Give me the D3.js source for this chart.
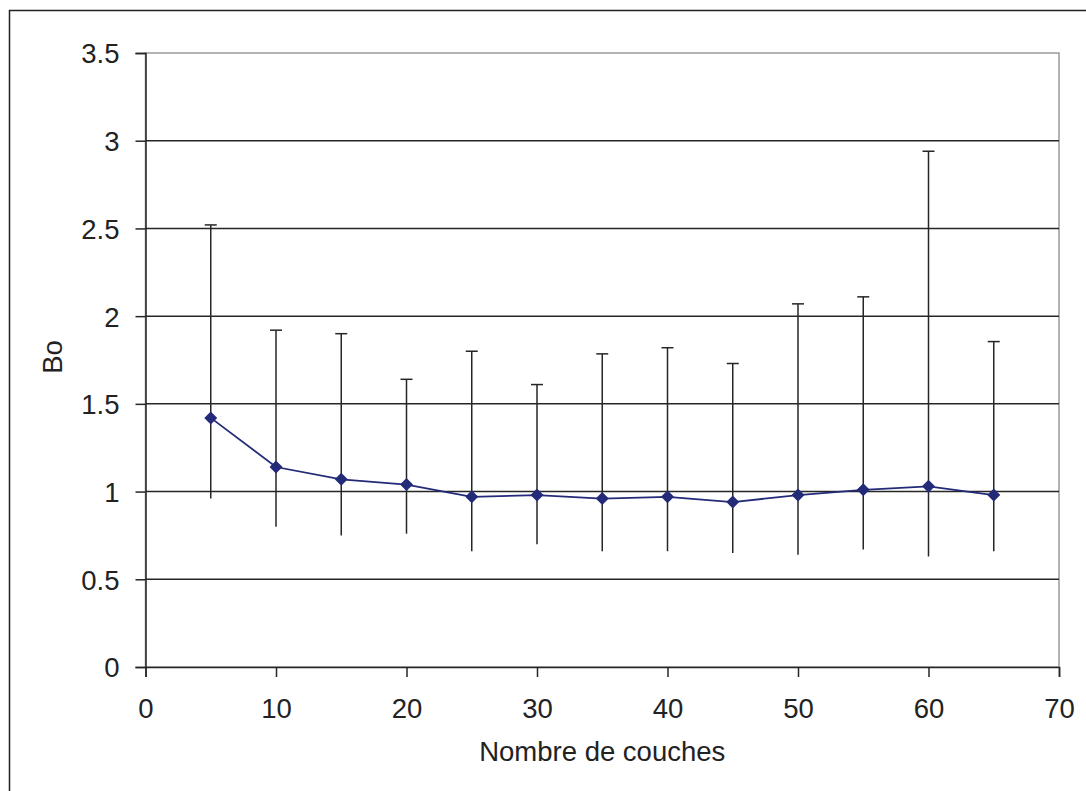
<!DOCTYPE html>
<html><head><meta charset="utf-8">
<script src="https://cdn.jsdelivr.net/npm/d3@7"></script>
<style>body{margin:0;background:#fff}svg{display:block;font-family:"Liberation Sans",Arial,sans-serif}</style>
</head><body>
<script>
const layers = [5,10,15,20,25,30,35,40,45,50,55,60,65];
const bo = [1.42,1.14,1.07,1.04,0.97,0.98,0.96,0.97,0.94,0.98,1.01,1.03,0.98];
const upper = [2.52,1.92,1.90,1.64,1.80,1.61,1.785,1.82,1.73,2.07,2.11,2.94,1.855];
const lower = [0.96,0.80,0.75,0.76,0.66,0.70,0.66,0.66,0.65,0.64,0.67,0.63,0.66];
const xTicks = [0,10,20,30,40,50,60,70];
const yTicks = [0,0.5,1,1.5,2,2.5,3,3.5];

const W=1086,H=791;
const svg=d3.select("body").append("svg").attr("width",W).attr("height",H);
const L=145.5,R=1059,T=53,B=667;
const x=d3.scaleLinear().domain([0,70]).range([L,R]);
const y=d3.scaleLinear().domain([0,3.5]).range([B,T]);
const FS=27.5;

// outer frame (cropped)
svg.append("rect").attr("x",9.5).attr("y",10.5).attr("width",1200).attr("height",1000)
  .attr("fill","none").attr("stroke","#222").attr("stroke-width",1.5);

// plot border (gray)
svg.append("rect").attr("x",L).attr("y",T).attr("width",R-L).attr("height",B-T)
  .attr("fill","none").attr("stroke","#9a9a9a").attr("stroke-width",1.5);

// grid
svg.append("g").selectAll("line").data(yTicks.filter(d=>d>0&&d<3.5)).join("line")
  .attr("x1",L).attr("x2",R).attr("y1",d=>y(d)).attr("y2",d=>y(d))
  .attr("stroke","#262626").attr("stroke-width",1.5);

// axes
const ya=svg.append("g").attr("transform",`translate(${L},0)`)
  .call(d3.axisLeft(y).tickValues(yTicks).tickSize(10).tickPadding(16).tickFormat(d3.format("")));
const xa=svg.append("g").attr("transform",`translate(0,${B})`)
  .call(d3.axisBottom(x).tickValues(xTicks).tickSize(10).tickPadding(21));
[ya,xa].forEach(g=>{
  g.attr("font-size",null).attr("font-family",null);
  g.selectAll("path").attr("stroke","#262626").attr("stroke-width",1.5);
  g.selectAll("line").attr("stroke","#262626").attr("stroke-width",1.5);
  g.selectAll("text").attr("font-size",FS).attr("fill","#222");
});
ya.selectAll("text").attr("dy","0.36em");

// error bars
const eb=svg.append("g");
eb.selectAll("line.v").data(layers).join("line")
  .attr("x1",d=>x(d)).attr("x2",d=>x(d))
  .attr("y1",(d,i)=>y(upper[i])).attr("y2",(d,i)=>y(lower[i]))
  .attr("stroke","#262626").attr("stroke-width",1.5);
eb.selectAll("line.c").data(layers).join("line")
  .attr("x1",d=>x(d)-6).attr("x2",d=>x(d)+6)
  .attr("y1",(d,i)=>y(upper[i])).attr("y2",(d,i)=>y(upper[i]))
  .attr("stroke","#262626").attr("stroke-width",1.5);

// line
const col="#232a78";
svg.append("path").datum(layers).attr("fill","none").attr("stroke",col).attr("stroke-width",1.8)
  .attr("d",d3.line().x(d=>x(d)).y((d,i)=>y(bo[i])));
svg.append("g").selectAll("path").data(layers).join("path")
  .attr("transform",(d,i)=>`translate(${x(d)},${y(bo[i])})`)
  .attr("d","M0,-6.5L6.5,0L0,6.5L-6.5,0Z").attr("fill",col);

// labels
svg.append("text").attr("x",(L+R)/2).attr("y",761).attr("text-anchor","middle")
  .attr("font-size",FS).attr("fill","#222").text("Nombre de couches");
svg.append("text").attr("transform","translate(62,357) rotate(-90)").attr("text-anchor","middle")
  .attr("font-size",FS).attr("fill","#222").text("Bo");
</script>
</body></html>
